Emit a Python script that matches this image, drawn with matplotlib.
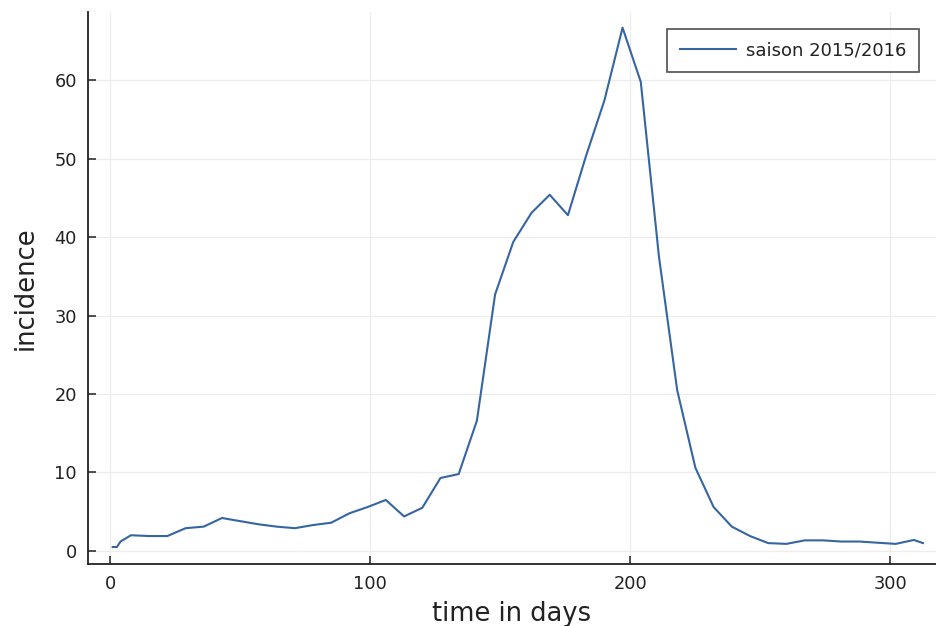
import matplotlib
matplotlib.use("Agg")
import matplotlib.pyplot as plt

# Weekly incidence over the 2015/2016 season
days = [1, 2.6, 4, 8, 15, 22, 29, 36, 43, 50, 57, 64, 71, 78, 85, 92, 99, 106,
        113, 120, 127, 134, 141, 148, 155, 162, 169, 176, 183, 190, 197, 204,
        211, 218, 225, 232, 239, 246, 253, 260, 267, 274, 281, 288, 295, 302,
        309, 312.5]
incidence = [0.5, 0.5, 1.2, 2.0, 1.9, 1.9, 2.9, 3.1, 4.2, 3.8, 3.4, 3.1, 2.9,
             3.3, 3.6, 4.8, 5.6, 6.5, 4.4, 5.5, 9.3, 9.8, 16.6, 32.7, 39.4,
             43.1, 45.4, 42.8, 50.4, 57.4, 66.7, 59.8, 37.5, 20.5, 10.6, 5.6,
             3.1, 1.9, 1.0, 0.9, 1.35, 1.35, 1.2, 1.2, 1.05, 0.9, 1.4, 1.0]
series_label = "saison 2015/2016"
xticks = [0, 100, 200, 300]
yticks = [0, 10, 20, 30, 40, 50, 60]

plt.rcParams["font.family"] = ["DejaVu Sans"]

fig = plt.figure(figsize=(9.36, 6.26), dpi=100)
ax = fig.add_axes([88 / 936, 1 - 563.5 / 626, 1 - 88 / 936, (563.5 - 12) / 626])

ax.plot(days, incidence, color="#3565a2", linewidth=1.5, label=series_label)

ax.set_xlim(-8.5, 317.5)
ax.set_ylim(-1.6, 68.7)
ax.set_xticks(xticks)
ax.set_yticks(yticks)

ax.grid(True, color="#ededed", linewidth=0.9)
ax.set_axisbelow(True)
for side in ("top", "right"):
    ax.spines[side].set_visible(False)
for side in ("left", "bottom"):
    ax.spines[side].set_linewidth(1.3)
    ax.spines[side].set_color("#222222")

ax.tick_params(direction="in", length=6, width=1.1, color="#222222",
               labelsize=12.8, labelcolor="#222222", pad=8)

ax.set_xlabel("time in days", fontsize=18.5, color="#222222", labelpad=6)
ax.set_ylabel("incidence", fontsize=18.5, color="#222222", labelpad=11)

leg = ax.legend(loc="upper right", bbox_to_anchor=(0.98, 0.969),
                borderaxespad=0, fontsize=13, frameon=True, fancybox=False,
                handlelength=3.15, borderpad=0.68, handletextpad=0.55)
leg.get_frame().set_edgecolor("#222222")
leg.get_frame().set_linewidth(1.2)
for t in leg.get_texts():
    t.set_color("#222222")

fig.savefig("out.png", dpi=100)
